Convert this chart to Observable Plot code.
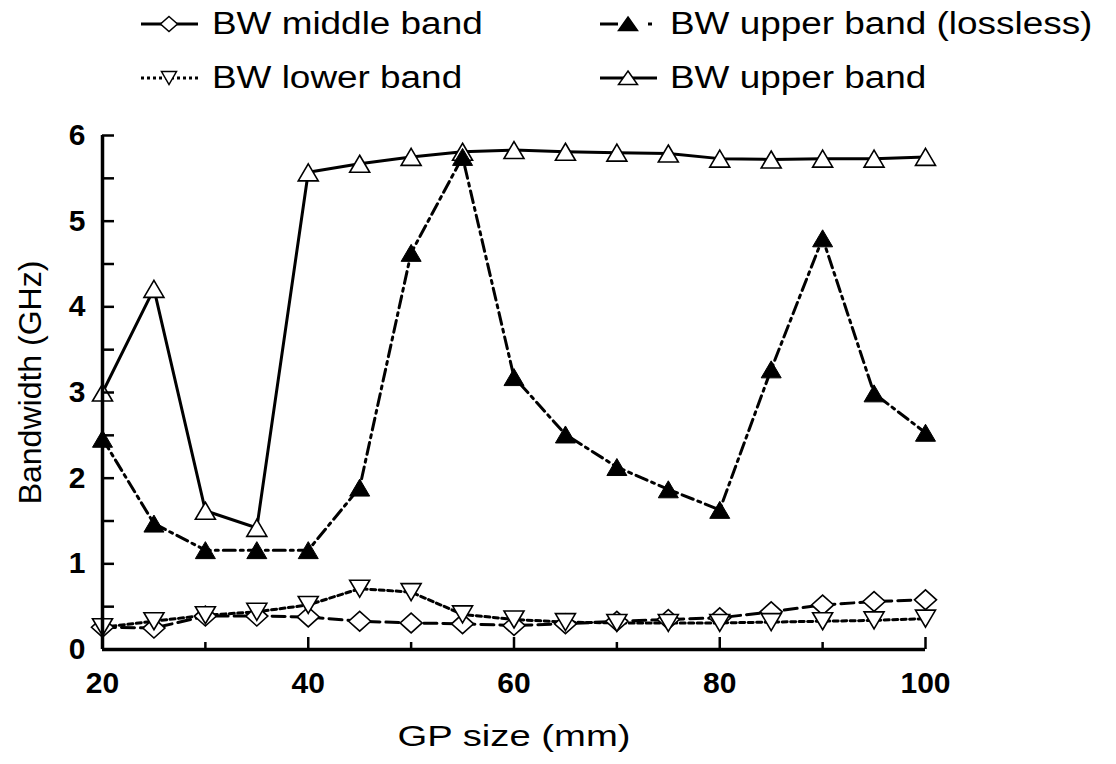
<!DOCTYPE html>
<html><head><meta charset="utf-8">
<script src="https://cdn.jsdelivr.net/npm/d3@7"></script>
<script src="https://cdn.jsdelivr.net/npm/@observablehq/plot@0.6"></script>
<style>
body{margin:0;background:#fff;font-family:"Liberation Sans",Arial,sans-serif;}
#legend{position:relative;width:1116px;height:100px;}
.sw{position:absolute;display:block;}
.lbl{position:absolute;font-size:31px;line-height:40px;white-space:nowrap;transform-origin:left center;transform:scaleX(1.19);color:#000;}
#chart svg{display:block}
</style></head>
<body><div id="legend"></div><div id="chart"></div>
<script>
// ---- data ----
const gpSize = [20,25,30,35,40,45,50,55,60,65,70,75,80,85,90,95,100];
const bwMiddle = [0.26,0.25,0.39,0.39,0.38,0.33,0.31,0.30,0.28,0.30,0.33,0.35,0.37,0.44,0.52,0.56,0.58];
const bwLower = [0.26,0.33,0.40,0.44,0.52,0.71,0.67,0.41,0.35,0.32,0.31,0.31,0.31,0.32,0.33,0.34,0.36];
const bwUpperLossless = [2.46,1.47,1.16,1.16,1.16,1.89,4.63,5.75,3.18,2.51,2.13,1.87,1.63,3.27,4.80,2.99,2.53];
const bwUpper = [3.00,4.21,1.62,1.42,5.57,5.67,5.75,5.81,5.83,5.81,5.80,5.79,5.73,5.72,5.73,5.73,5.75];
const seriesNames = ["BW middle band","BW lower band","BW upper band (lossless)","BW upper band"];
const xTicksMajor = [20,40,60,80,100];
const xTicksMinor = [30,50,70,90];
const yTickLabels = [0,1,2,3,4,5,6];
const yTicks = [0,0.5,1,1.5,2,2.5,3,3.5,4,4.5,5,5.5,6];
const xTitle = "GP size (mm)";
const yTitle = "Bandwidth (GHz)";

// ---- layout ----
const W = 1116, H = 664, mL = 102, mR = 191, mT = 35, mB = 115;
const frameW = W - mL - mR, frameH = H - mT - mB;

// ---- symbols ----
const rr = s => Math.sqrt(s/Math.PI);
const symDiamond = {draw(c,s){const r=rr(s);c.moveTo(0,-0.9*r);c.lineTo(r,0);c.lineTo(0,0.9*r);c.lineTo(-r,0);c.closePath();}};
const symUp = {draw(c,s){const r=rr(s);c.moveTo(0,-0.85*r);c.lineTo(r,0.85*r);c.lineTo(-r,0.85*r);c.closePath();}};
const symDown = {draw(c,s){const r=rr(s);c.moveTo(0,0.85*r);c.lineTo(r,-0.85*r);c.lineTo(-r,-0.85*r);c.closePath();}};

const rows = ys => gpSize.map((x,i)=>({x, y: ys[i]}));
const mid = rows(bwMiddle), low = rows(bwLower), lossless = rows(bwUpperLossless), up = rows(bwUpper);

const dashMid = "13,6", dashLow = "5,3.5", dashLossless = "12,5,3,5";

const chart = Plot.plot({
  width: W, height: H,
  marginLeft: mL, marginRight: mR, marginTop: mT, marginBottom: mB,
  x: {domain: [20,100]},
  y: {domain: [0,6]},
  style: {fontFamily: '"Liberation Sans", Arial, sans-serif', background: "white", color: "black"},
  marks: [
    // lines
    Plot.line(up, {x:"x", y:"y", stroke:"black", strokeWidth:3}),
    Plot.line(lossless, {x:"x", y:"y", stroke:"black", strokeWidth:3, strokeDasharray: dashLossless}),
    Plot.line(mid, {x:"x", y:"y", stroke:"black", strokeWidth:3, strokeDasharray: dashMid}),
    Plot.line(low, {x:"x", y:"y", stroke:"black", strokeWidth:3, strokeDasharray: dashLow}),
    // markers
    Plot.dot(mid, {x:"x", y:"y", symbol: symDiamond, r: 11, fill:"white", stroke:"black", strokeWidth:1.6}),
    Plot.dot(low, {x:"x", y:"y", symbol: symDown, r: 10, fill:"white", stroke:"black", strokeWidth:1.6}),
    Plot.dot(up, {x:"x", y:"y", symbol: symUp, r: 10, fill:"white", stroke:"black", strokeWidth:1.6}),
    Plot.dot(lossless, {x:"x", y:"y", symbol: symUp, r: 10, fill:"black", stroke:"black", strokeWidth:1}),
    // inward ticks
    Plot.tickY(yTicks, {y: d => d, insetRight: frameW - 12, strokeWidth: 2.5}),
    Plot.tickX(xTicksMajor, {x: d => d, insetTop: frameH - 12, strokeWidth: 2.5}),
    Plot.tickX(xTicksMinor, {x: d => d, insetTop: frameH - 7, strokeWidth: 2.5}),
    // tick labels
    Plot.axisY({ticks: yTickLabels, tickFormat: "d", tickSize: 0, tickPadding: 17, fontSize: 30, fontWeight: "bold", label: null}),
    Plot.axisX({ticks: xTicksMajor, tickFormat: "d", tickSize: 0, tickPadding: 22, fontSize: 30, fontWeight: "bold", label: null}),
    // axis lines
    Plot.ruleX([20], {strokeWidth: 3.5}),
    Plot.ruleY([0], {strokeWidth: 3.5}),
    // titles
    Plot.text([xTitle], {frameAnchor: "bottom", textAnchor: "middle", dy: 96, fontSize: 30, className: "xtitle"}),
    Plot.text([yTitle], {frameAnchor: "left", textAnchor: "middle", lineAnchor: "middle", rotate: -90, dx: -72, dy: -10, fontSize: 32})
  ]
});
document.getElementById("chart").appendChild(chart);
// stretch x axis title horizontally like the reference
chart.querySelectorAll(".xtitle text").forEach(t=>{t.setAttribute("textLength", 233); t.setAttribute("lengthAdjust","spacingAndGlyphs");});

// ---- legend ----
const legendItems = [
  {name: seriesNames[0], left: 140, textLeft: 212, cy: 24, dash: null, sym: "diamond", fill: "white"},
  {name: seriesNames[1], left: 140, textLeft: 212, cy: 78, dash: "3,3", sym: "down", fill: "white"},
  {name: seriesNames[2], left: 599, textLeft: 670, cy: 24, dash: "18,30,4,10", sym: "up", fill: "black"},
  {name: seriesNames[3], left: 599, textLeft: 670, cy: 78, dash: null, sym: "up", fill: "white"}
];
const lg = document.getElementById("legend");
for (const it of legendItems) {
  const w = 60, h = 30, cx = 29, cyy = 15;
  let marker;
  if (it.sym === "diamond") marker = `<polygon points="${cx},${cyy-7.5} ${cx+8.5},${cyy} ${cx},${cyy+7.5} ${cx-8.5},${cyy}" fill="white" stroke="black" stroke-width="1.5"/>`;
  else if (it.sym === "down") marker = `<polygon points="${cx-7.5},${cyy-6.5} ${cx+7.5},${cyy-6.5} ${cx},${cyy+6.5}" fill="white" stroke="black" stroke-width="1.5"/>`;
  else marker = `<polygon points="${cx},${cyy-7} ${cx+9.5},${cyy+6.5} ${cx-9.5},${cyy+6.5}" fill="${it.fill}" stroke="black" stroke-width="1.5"/>`;
  const line = `<line x1="1" y1="${cyy}" x2="${w-2}" y2="${cyy}" stroke="black" stroke-width="3" ${it.dash ? `stroke-dasharray="${it.dash}"` : ""}/>`;
  const sw = document.createElementNS("http://www.w3.org/2000/svg","svg");
  sw.setAttribute("class","sw"); sw.setAttribute("width",w); sw.setAttribute("height",h);
  sw.style.left = it.left + "px"; sw.style.top = (it.cy - h/2) + "px";
  sw.innerHTML = line + marker;
  lg.appendChild(sw);
  const t = document.createElement("div");
  t.className = "lbl"; t.textContent = it.name;
  t.style.left = it.textLeft + "px"; t.style.top = (it.cy - 20) + "px";
  lg.appendChild(t);
}
</script></body></html>
